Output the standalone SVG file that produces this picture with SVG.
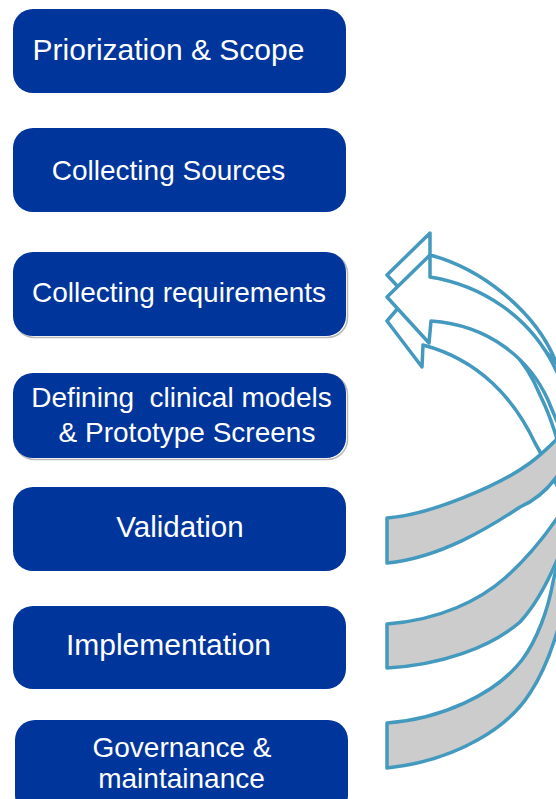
<svg xmlns="http://www.w3.org/2000/svg" width="556" height="799" viewBox="0 0 556 799">
  <style>
    .box { fill: #00359b; }
    .halo { fill: none; stroke: #b9b9b9; stroke-width: 1.5; }
    .lbl { fill: #ffffff; font-family: "Liberation Sans", Arial, sans-serif; font-size: 28px; text-anchor: middle; }
    .face { fill: #ffffff; stroke: #4499bf; stroke-width: 3.5; stroke-linejoin: round; }
    .back { fill: #cccccc; stroke: #4499bf; stroke-width: 3.5; stroke-linejoin: round; }
  </style>
  <rect width="556" height="799" fill="#ffffff"/>

  <!-- process steps -->
  <g id="step-scope">
    <rect class="box" x="13" y="9" width="333" height="84" rx="20"/>
    <text class="lbl" x="168.5" y="60" style="font-size:30px">Priorization &amp; Scope</text>
  </g>
  <g id="step-sources">
    <rect class="box" x="13" y="128" width="333" height="84" rx="20"/>
    <text class="lbl" x="168.5" y="180">Collecting Sources</text>
  </g>
  <g id="step-requirements">
    <rect class="halo" x="14.5" y="253.5" width="333" height="84" rx="20"/>
    <rect class="box" x="13" y="252" width="333" height="84" rx="20"/>
    <text class="lbl" x="179" y="302">Collecting requirements</text>
  </g>
  <g id="step-models">
    <rect class="halo" x="14.5" y="374.5" width="333" height="85" rx="20"/>
    <rect class="box" x="13" y="373" width="333" height="85" rx="20"/>
    <text class="lbl" x="181.5" y="407" xml:space="preserve">Defining  clinical models</text>
    <text class="lbl" x="187" y="442">&amp; Prototype Screens</text>
  </g>
  <g id="step-validation">
    <rect class="box" x="13" y="487" width="333" height="84" rx="20"/>
    <text class="lbl" x="180" y="537" style="font-size:29.5px">Validation</text>
  </g>
  <g id="step-implementation">
    <rect class="box" x="13" y="606" width="333" height="83" rx="20"/>
    <text class="lbl" x="168.5" y="655" style="font-size:30px">Implementation</text>
  </g>
  <g id="step-governance">
    <rect class="box" x="15" y="720" width="333" height="95" rx="20"/>
    <text class="lbl" x="182" y="757">Governance &amp;</text>
    <text class="lbl" x="181.5" y="788">maintainance</text>
  </g>

  <!-- curved feedback arrows: front face (white) ends in the head, back face (grey) is the tail -->
  <g id="connectors">
    <!-- arrow 3 -->
    <path class="face" d="M387,321 L423,279 L423,301 C470,305 520,345 540,395 C555,425 568,470 575,535 C565,500 550,468 535,443 C515,400 480,360 423,345 L422,367 Z"/>
    <path class="back" d="M387,723 C440,719 495,695 522,660 C537,640 548,610 553,582 C557,560 567,548 575,535 C570,600 552,660 530,693 C510,725 460,760 387,768 Z"/>
    <!-- arrow 1 -->
    <path class="face" d="M387,275 L430,233 L430,255 C480,268 535,310 556,362 C568,385 578,398 582,412 C570,365 520,310 430,299 L430,321 Z"/>
    <path class="back" d="M387,518 C430,515 500,485 530,463 C550,448 568,428 582,412 C578,450 555,492 520,507 C490,527 440,558 387,563 Z"/>
    <!-- arrow 2 -->
    <path class="back" d="M387,624 C440,620 480,600 505,578 C530,556 555,525 578,485 C572,535 545,595 520,622 C490,648 440,665 387,668 Z"/>
    <path class="face" d="M387,297 L430,255 L430,277 C480,285 530,315 556,370 C570,400 578,440 578,485 C572,450 560,430 548,400 C530,360 490,325 431,321 L429,343 Z"/>
  </g>
</svg>
